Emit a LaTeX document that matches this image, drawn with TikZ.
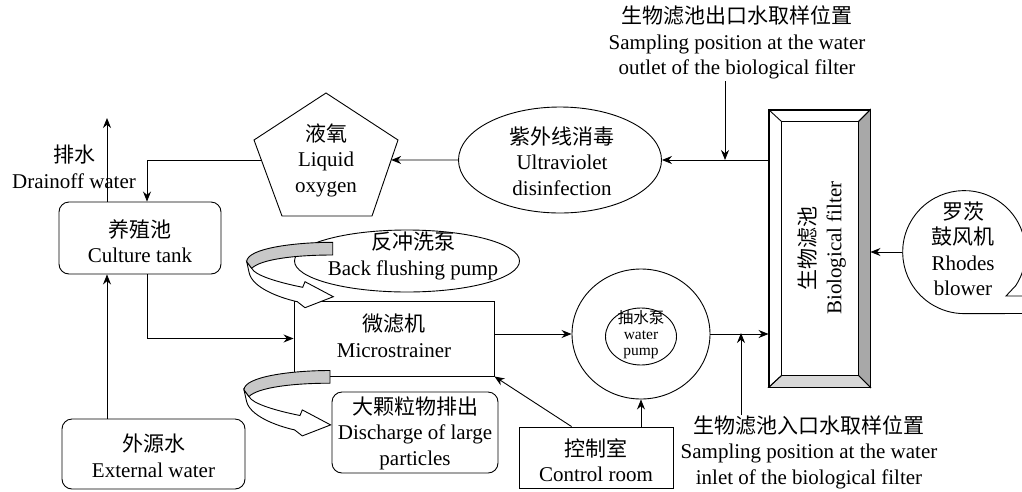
\documentclass[tikz,border=0pt]{standalone}
\usepackage{fontspec}
\setmainfont{Liberation Serif}
\newfontfamily\cjk{Noto Sans CJK SC}
\usetikzlibrary{shapes.geometric,arrows.meta,calc}
\definecolor{ribgray}{RGB}{200,200,200}
\definecolor{bevdark}{RGB}{168,168,168}
\definecolor{bevlight}{RGB}{216,216,216}
\newcommand\ribbonarrow[1]{%
  \begin{scope}[shift={#1}]
    \filldraw[lw, fill=white] (-86,19.4) -- (-83.4,31) .. controls (-80,45) and (-55,55) .. (-35.4,59.4)
      -- (-27.7,65.4) -- (0.6,54.4) -- (-27.7,39.4) -- (-30,45)
      .. controls (-55,40) and (-78,33) .. (-81,26) -- cycle;
    \filldraw[lw, fill=ribgray] (0,0) .. controls (-38,0) and (-86,6) .. (-86,19.4) -- (-81,26)
      .. controls (-72,17) and (-38,12.7) .. (0,12.7) -- cycle;
  \end{scope}}
\begin{document}
\begin{tikzpicture}[x=1pt,y=-1pt,
  lw/.style={line width=0.9pt},
  txt/.style={align=center, inner sep=0pt, font=\fontsize{21}{25.5}\selectfont},
  smalltxt/.style={align=center, inner sep=0pt, font=\fontsize{15.5}{16}\selectfont},
  arr/.style={lw, -{Stealth[length=10pt,width=8pt]}},
  rbox/.style={draw, lw, rounded corners=10pt, inner sep=0pt},
  sbox/.style={draw, lw, inner sep=0pt},
  ell/.style={draw, lw, ellipse, inner sep=0pt}]
\useasboundingbox (0,0) rectangle (1022,491);

% culture tank
\node[rbox, minimum width=162, minimum height=72] (cult) at (140,238) {};
\node[txt] (cultt) at (140,241) {{\cjk 养殖池}\\Culture tank};
% external water
\node[rbox, minimum width=183, minimum height=70] (ext) at (153.5,454) {};
\node[txt] (extt) at (153.5,456) {{\cjk 外源水}\\External water};
% drain label
\node[txt] (drain) at (74,167) {{\cjk 排水}\\Drainoff water};
\coordinate (drainend) at (107,118);

% liquid oxygen pentagon
\coordinate (p1) at (326,93);
\coordinate (p2) at (398,140);
\coordinate (p3) at (372,216);
\coordinate (p4) at (282,216);
\coordinate (p5) at (254,140);
\draw[lw] (p1) -- (p2) -- (p3) -- (p4) -- (p5) -- cycle;
\coordinate (pr) at ($(p2)!0.263!(p3)$);
\coordinate (pl) at ($(p5)!0.263!(p4)$);
\node[txt] (lox) at (326,160) {{\cjk 液氧}\\Liquid\\oxygen};

% UV
\node[ell, minimum width=203, minimum height=106] (uv) at (560,160) {};
\node[txt] (uvt) at (562,161) {{\cjk 紫外线消毒}\\Ultraviolet\\disinfection};

% biological filter
\node[sbox, minimum width=101, minimum height=277, fill=white] (bf) at (819.5,248.5) {};
\coordinate (i1) at ($(bf.north west)+(13,12)$);
\coordinate (i2) at ($(bf.north east)+(-12,12)$);
\coordinate (i3) at ($(bf.south east)+(-12,-12)$);
\coordinate (i4) at ($(bf.south west)+(13,-12)$);
\filldraw[lw, fill=bevdark] (i2) -- (bf.north east) -- (bf.south east) -- (i3) -- cycle;
\filldraw[lw, fill=bevlight] (i4) -- (i3) -- (bf.south east) -- (bf.south west) -- cycle;
\draw[lw] (i1) -- (i2) -- (i3) -- (i4) -- cycle;
\draw[lw] (bf.north west) -- (i1) (bf.south west) -- (i4) (bf.north east) -- (i2);
\draw[lw] (bf.north west) rectangle (bf.south east);
\node[txt, rotate=90] (bft) at (822,248) {{\cjk 生物滤池}\\Biological filter};

% Rhodes blower
\node[circle, minimum size=123, inner sep=0pt] (blow) at (964,252) {};
\draw[lw] (1030,296) -- (1006,296) -- (blow.-33) arc[start angle=-33, end angle=270, radius=61.5pt] -- (1030,313.5);
\node[txt] (blowt) at (963,249) {{\cjk 罗茨}\\{\cjk 鼓风机}\\Rhodes\\blower};

% back flushing pump
\node[ell, minimum width=225, minimum height=62] (bfp) at (407,261) {};
\node[txt] (bfpt) at (413,256) {{\cjk 反冲洗泵}\\Back flushing pump};

% microstrainer
\node[sbox, minimum width=200, minimum height=75] (ms) at (394,338.5) {};
\node[txt] (mst) at (394,336) {{\cjk 微滤机}\\Microstrainer};

% discharge
\node[rbox, minimum width=166, minimum height=81] (dis) at (415,432.5) {};
\node[txt] (dist) at (415,433) {{\cjk 大颗粒物排出}\\Discharge of large\\particles};

% ribbons
\ribbonarrow{(332.7,242.3)}
\ribbonarrow{(330,370.5)}

% control room
\node[sbox, minimum width=154, minimum height=61] (ctrl) at (596,457.5) {};
\node[txt] (ctrlt) at (596,460) {{\cjk 控制室}\\Control room};

% pump
\node[ell, minimum width=138, minimum height=130] (pump) at (641,334) {};
\node[ell, minimum width=71, minimum height=57] (pumpin) at (641,336.5) {};
\node[smalltxt] (pumpt) at (641,335) {{\cjk 抽水泵}\\water\\pump};

% sampling labels
\node[txt] (outlbl) at (737,42.5) {{\cjk 生物滤池出口水取样位置}\\Sampling position at the water\\outlet of the biological filter};
\node[txt] (inlbl) at (809,452) {{\cjk 生物滤池入口水取样位置}\\Sampling position at the water\\inlet of the biological filter};
\coordinate (outpt) at (725,160);
\coordinate (inpt) at (741,333);

% connectors
\draw[arr] (bf.west |- uv.east) -- (uv.east);
\draw[arr] (outpt |- 0,81) -- (outpt);
\draw[arr] (uv.west) -- (pr);
\draw[arr] (pl) -| ([xshift=7pt]cult.north);
\draw[arr] (cult.north -| drainend) -- (drainend);
\draw[arr] (ext.north -| drainend) -- (cult.south -| drainend);
\draw[arr] ([xshift=7pt]cult.south) |- (ms.west);
\draw[arr] (ms.east |- pump.west) -- (pump.west);
\draw[arr] (pump.east) -- (bf.west |- pump.east);
\draw[arr] (inpt |- 0,415) -- (inpt);
\draw[arr] ($(ctrl.north west)+(53,0)$) -- (ms.south east);
\draw[arr] (pump.south |- ctrl.north) -- (pump.south);
\draw[arr] (blow.west) -- (bf.east |- blow.west);
\end{tikzpicture}
\end{document}
